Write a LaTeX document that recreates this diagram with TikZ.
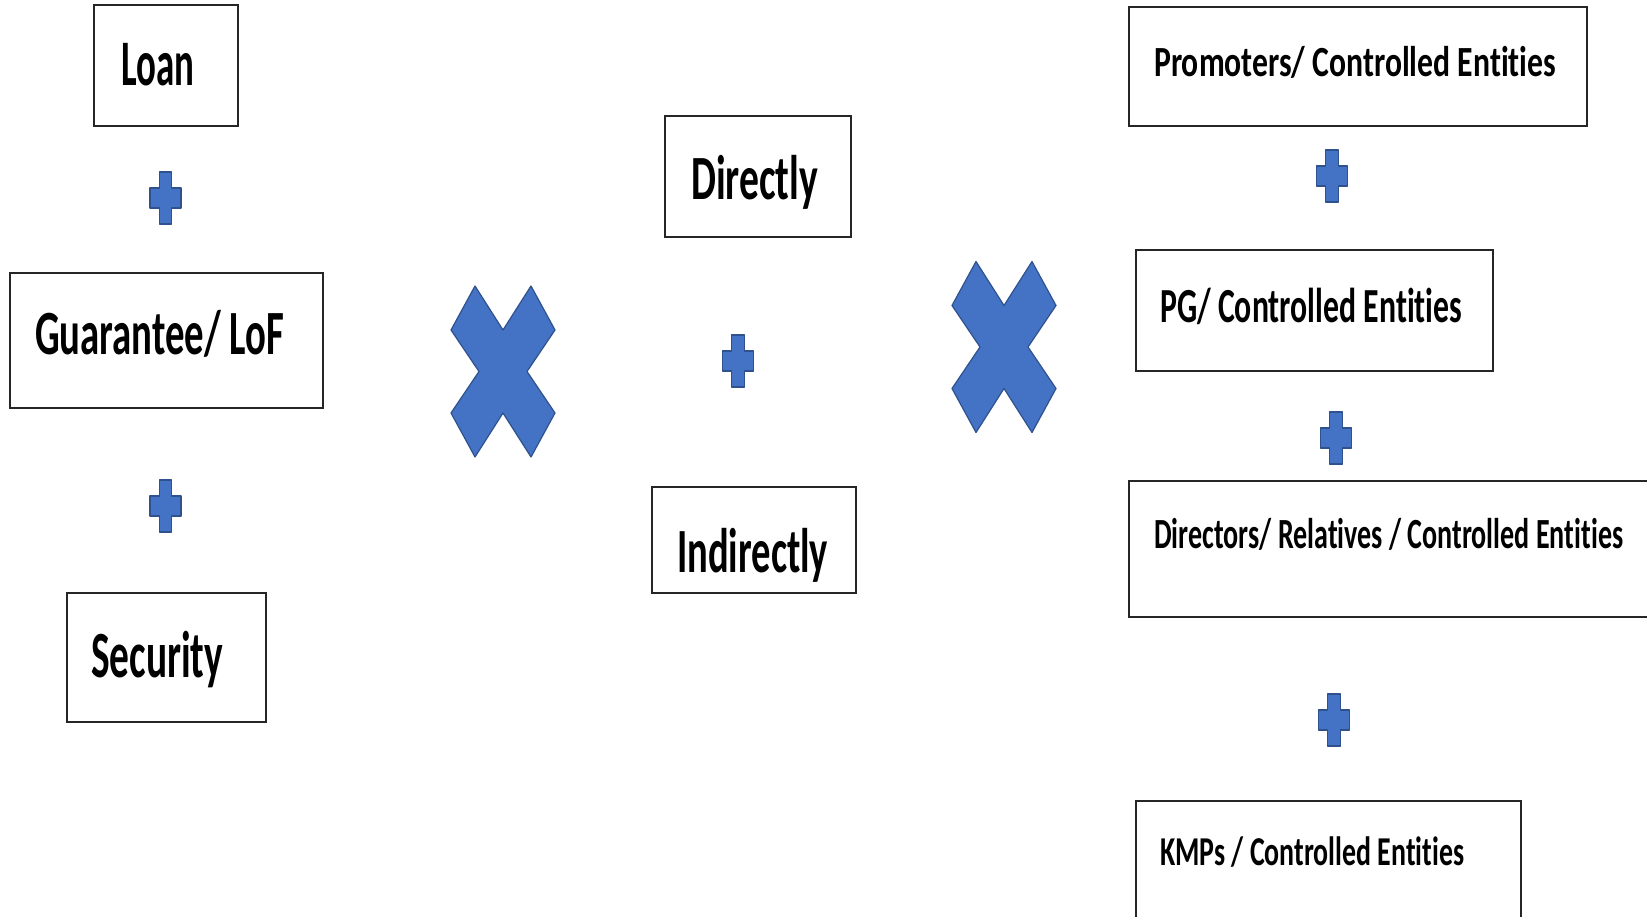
\documentclass[tikz,border=0pt]{standalone}
\usepackage{fontspec}
\setmainfont{Carlito}[Ligatures=NoCommon]
\usepackage{graphicx}
% condensed label text: #1 = width (pt), #2 = font size (pt), #3 = text
\newcommand\sqtext[3]{\resizebox{#1pt}{\height}{\fontsize{#2}{#2}\selectfont\bfseries #3}}
\definecolor{markblue}{HTML}{4472C4}
\definecolor{markedge}{HTML}{2F528F}
\tikzset{
  box/.style={draw=black!85, line width=2pt, fill=white, inner sep=0pt},
  lbl/.style={anchor=base west, inner sep=0pt, text=black},
  markfill/.style={fill=markblue, draw=markedge, line width=1.2pt, line join=round},
  plussign/.pic={
    \path[markfill] (-6.3,-26) -- (6.3,-26) -- (6.3,-10) -- (15.5,-10) -- (15.5,10)
      -- (6.3,10) -- (6.3,26) -- (-6.3,26) -- (-6.3,10) -- (-15.5,10)
      -- (-15.5,-10) -- (-6.3,-10) -- cycle;
  },
  timessign/.pic={
    \path[markfill] (-28,-85.5) -- (0,-41.5) -- (28,-85.5) -- (52,-41.5) -- (24,0)
      -- (52,41.5) -- (28,85.5) -- (0,41.5) -- (-28,85.5) -- (-52,41.5)
      -- (-24,0) -- (-52,-41.5) -- cycle;
  }
}
\begin{document}
\begin{tikzpicture}[x=1pt, y=-1pt]
  \useasboundingbox[fill=white] (0,0) rectangle (1647,917);

  % left column: kinds of exposure
  \node[box, minimum width=144pt, minimum height=121pt] (loan) at (166,65.5) {};
  \node[lbl] (loant) at (121,86) {\sqtext{73}{65}{Loan}};
  \pic at (165.5,198) {plussign};
  \node[box, minimum width=313pt, minimum height=135pt] (guar) at (166.5,340.5) {};
  \node[lbl] (guart) at (35,355) {\sqtext{249}{63}{Guarantee/ LoF}};
  \pic at (165.5,506) {plussign};
  \node[box, minimum width=199pt, minimum height=129pt] (sec) at (166.5,657.5) {};
  \node[lbl] (sect) at (91,677) {\sqtext{132}{66}{Security}};

  \pic at (503,371.5) {timessign};

  % middle column: manner
  \node[box, minimum width=186pt, minimum height=121pt] (dir) at (758,176.5) {};
  \node[lbl] (dirt) at (691,200) {\sqtext{127}{63}{Directly}};
  \pic at (738,361) {plussign};
  \node[box, minimum width=204pt, minimum height=106pt] (ind) at (754,540) {};
  \node[lbl] (indt) at (677,572) {\sqtext{151}{63}{Indirectly}};

  \pic at (1004,347) {timessign};

  % right column: related parties
  \node[box, minimum width=458pt, minimum height=119pt] (prom) at (1358,66.5) {};
  \node[lbl] (promt) at (1154,77) {\sqtext{402}{43}{Promoters/ Controlled Entities}};
  \pic at (1332,176) {plussign};
  \node[box, minimum width=357pt, minimum height=121pt] (pg) at (1314.5,310.5) {};
  \node[lbl] (pgt) at (1160,323) {\sqtext{302}{49}{PG/ Controlled Entities}};
  \pic at (1336,438) {plussign};
  \node[box, minimum width=540pt, minimum height=136pt] (dirs) at (1399,549) {};
  \node[lbl] (dirst) at (1154,548) {\sqtext{469}{43}{Directors/ Relatives / Controlled Entities}};
  \pic at (1334,720) {plussign};
  \node[box, minimum width=385pt, minimum height=130pt] (kmp) at (1328.5,866) {};
  \node[lbl] (kmpt) at (1160,865) {\sqtext{304}{41}{KMPs / Controlled Entities}};
\end{tikzpicture}
\end{document}
